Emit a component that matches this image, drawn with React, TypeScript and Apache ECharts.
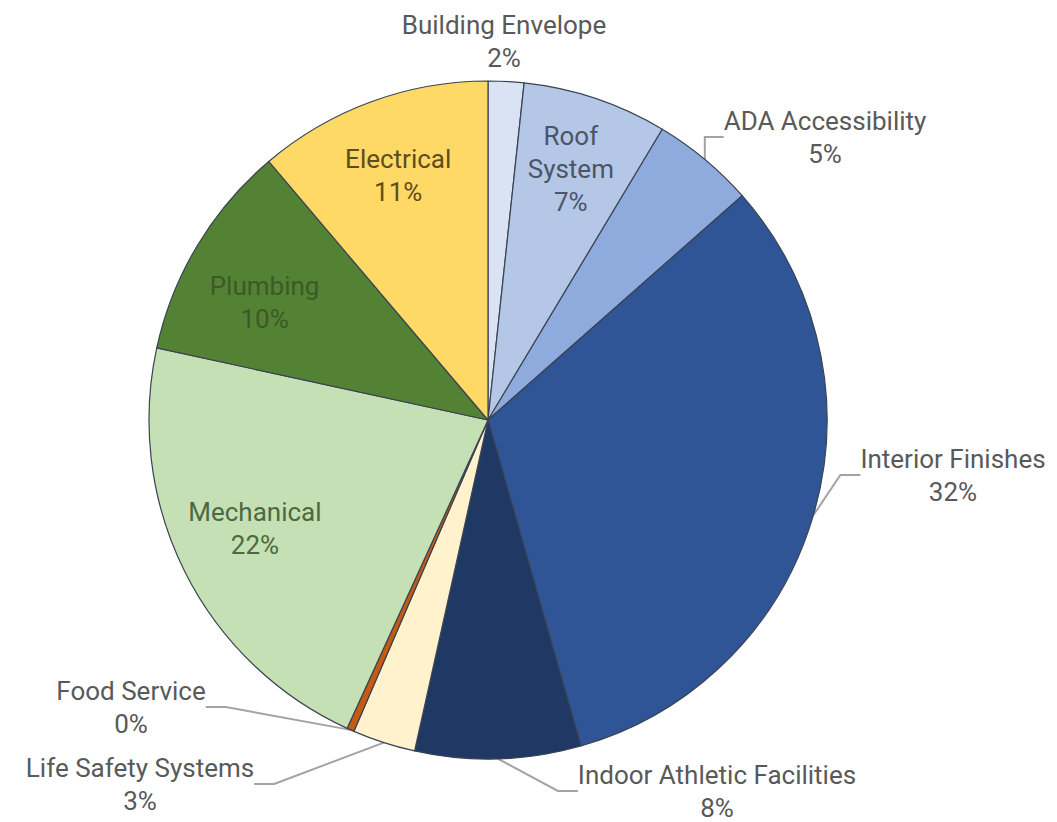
import React, { useEffect, useRef } from 'react';
import * as echarts from 'echarts';

// ---- data ----
const categories = [
  'Building Envelope',
  'Roof System',
  'ADA Accessibility',
  'Interior Finishes',
  'Indoor Athletic Facilities',
  'Life Safety Systems',
  'Food Service',
  'Mechanical',
  'Plumbing',
  'Electrical',
];
const values = [1.7, 6.9, 4.9, 32.1, 7.9, 3.0, 0.35, 21.6, 10.4, 11.2];
const displayNames = [
  'Building Envelope',
  'Roof\nSystem',
  'ADA Accessibility',
  'Interior Finishes',
  'Indoor Athletic Facilities',
  'Life Safety Systems',
  'Food Service',
  'Mechanical',
  'Plumbing',
  'Electrical',
];
const insideLabel = [false, true, false, false, false, false, false, true, true, true];

// ---- styles ----
const colors = ['#dae3f3', '#b4c7e7', '#8faadc', '#2f5597', '#203864', '#fff2cc', '#c55a11', '#c5e0b4', '#548235', '#ffd966'];
const insideTextColors: Record<number, string> = { 1: '#4b5566', 7: '#4b6a3f', 8: '#3b5a28', 9: '#5e4c1e' };
const insideLabelShift: Record<number, number> = { 1: -4, 7: -8, 8: 17 };
const outsideLabelPos: Record<number, [number, number]> = {
  0: [504, 41],
  2: [825, 137],
  3: [953, 475],
  4: [717, 791],
  5: [140, 784],
  6: [131, 707],
};
const FONT = 'Roboto';
const FONT_SIZE = 26;
const LINE_H = 33;
const CENTER = [488, 420];
const R = 339;

const total = values.reduce((a, b) => a + b, 0);
const pct = (v: number) => Math.round((v / total) * 100) + '%';

export default function App() {
  const ref = useRef<HTMLDivElement>(null);
  useEffect(() => {
    if (!ref.current) return;
    const chart = echarts.init(ref.current, undefined, { renderer: 'svg' });
    const mainData = categories.map((name, i) => ({
      name,
      value: values[i],
      itemStyle: { color: colors[i] },
      label: { show: !insideLabel[i] },
      labelLine: { show: !insideLabel[i] && i !== 0 },
    }));
    const overlayData = categories.map((name, i) => ({
      name,
      value: values[i],
      itemStyle: { color: 'rgba(0,0,0,0)', borderWidth: 0 },
      label: { show: insideLabel[i], color: insideTextColors[i] },
    }));
    chart.setOption({
      animation: false,
      backgroundColor: '#ffffff',
      series: [
        {
          type: 'pie',
          center: CENTER,
          radius: [0, R],
          startAngle: 90,
          clockwise: true,
          avoidLabelOverlap: false,
          silent: true,
          itemStyle: { borderColor: '#3a4352', borderWidth: 1.2 },
          label: {
            position: 'outside',
            fontFamily: FONT,
            fontSize: FONT_SIZE,
            lineHeight: LINE_H,
            color: '#595959',
            overflow: 'none',
            align: 'center',
            formatter: (p: any) => displayNames[p.dataIndex] + '\n' + pct(p.value),
          },
          labelLine: {
            show: true,
            length: 10,
            length2: 20,
            smooth: false,
            lineStyle: { color: '#a3a3a3', width: 2 },
          },
          labelLayout: (params: any) => {
            const p = outsideLabelPos[params.dataIndex];
            if (!p) return {};
            return { x: p[0], y: p[1], align: 'center', verticalAlign: 'middle' };
          },
          data: mainData,
        },
        {
          type: 'pie',
          center: CENTER,
          radius: [R * 0.52, R],
          startAngle: 90,
          clockwise: true,
          silent: true,
          avoidLabelOverlap: false,
          label: {
            position: 'inside',
            fontFamily: FONT,
            fontSize: FONT_SIZE,
            lineHeight: LINE_H,
            overflow: 'none',
            align: 'center',
            formatter: (p: any) => displayNames[p.dataIndex] + '\n' + pct(p.value),
          },
          labelLine: { show: false },
          labelLayout: (params: any) => {
            const dy = insideLabelShift[params.dataIndex];
            return dy ? { dy } : {};
          },
          data: overlayData,
        },
      ],
    });
    return () => chart.dispose();
  }, []);
  return (
    <div
      ref={ref}
      style={{ position: 'fixed', left: 0, top: 0, width: 1057, height: 822, background: '#fff' }}
    />
  );
}
